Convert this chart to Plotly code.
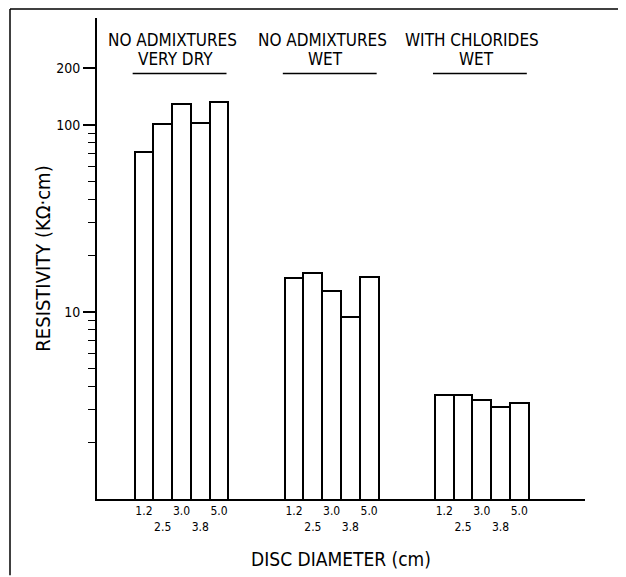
import plotly.graph_objects as go

# ---- data ----
group_line1 = ["NO ADMIXTURES", "NO ADMIXTURES", "WITH CHLORIDES"]
group_line2 = ["VERY DRY", "WET", "WET"]
diameters = ["1.2", "2.5", "3.0", "3.8", "5.0"]
very_dry = [71.5, 101, 128.6, 102.5, 133]
wet = [15.2, 16.1, 12.9, 9.4, 15.4]
chlorides_wet = [3.59, 3.59, 3.40, 3.11, 3.27]
y_tick_vals = [10, 100, 200]
y_tick_text = ["10", "100", "200"]

series = [very_dry, wet, chlorides_wet]
GAP = 8  # slot spacing between groups

FONT = "Liberation Sans Narrow, DejaVu Sans Condensed, Arial, sans-serif"

fig = go.Figure()
tickvals, ticktext = [], []
for g, vals in enumerate(series):
    xs = [g * GAP + i for i in range(len(vals))]
    fig.add_trace(go.Bar(
        x=xs, y=vals, width=1,
        marker=dict(color="white", line=dict(color="black", width=2)),
        showlegend=False, hoverinfo="skip",
    ))
    for i, d in enumerate(diameters):
        tickvals.append(g * GAP + i)
        ticktext.append(d if i % 2 == 0 else "<br>" + d)

# the page body adds an 8px margin; work in window pixels and shift
OFF = 8
WIN_W, WIN_H = 626, 577
W, H = WIN_W - OFF, WIN_H - OFF
PL, PR, PT, PB = 97, 585, 18, 503  # plot area in window pixels
ML, MR, MT, MB = PL - OFF, W - (PR - OFF), PT - OFF, H - (PB - OFF)
pw, ph = W - ML - MR, H - MT - MB

def px(xw):
    return (xw - OFF - ML) / pw

def py(yw):
    return (H - MB - (yw - OFF)) / ph

shapes = [
    dict(type="line", xref="paper", yref="paper", x0=px(10), x1=px(10), y0=py(9), y1=py(580),
         line=dict(color="black", width=1.5)),
    dict(type="line", xref="paper", yref="paper", x0=px(10), x1=px(630), y0=py(9), y1=py(9),
         line=dict(color="black", width=1.5)),
]
annotations = []
for g in range(3):
    c = g * GAP + 2
    annotations.append(dict(x=c - 0.5, y=py(40), xref="x", yref="paper", text=group_line1[g],
                            xanchor="center", yanchor="middle",
                            showarrow=False, font=dict(family=FONT, size=17, color="black")))
    annotations.append(dict(x=c - 0.3, y=py(59), xref="x", yref="paper", text=group_line2[g],
                            xanchor="center", yanchor="middle",
                            showarrow=False, font=dict(family=FONT, size=17, color="black")))
    shapes.append(dict(type="line", xref="x", yref="paper", x0=c - 2.6, x1=c + 2.4,
                       y0=py(74), y1=py(74), line=dict(color="black", width=1.5)))

fig.update_layout(
    width=W, height=H,
    margin=dict(l=ML, r=MR, t=MT, b=MB, pad=0),
    paper_bgcolor="white", plot_bgcolor="white",
    bargap=0,
    font=dict(family=FONT, color="black"),
    shapes=shapes, annotations=annotations,
    xaxis=dict(
        range=[-2.5, 23.5], showgrid=False, zeroline=False,
        showline=True, linecolor="black", linewidth=2,
        tickvals=tickvals, ticktext=ticktext, ticks="", ticklen=0,
        tickfont=dict(family=FONT, size=12, color="black"), tickangle=0,
        title=dict(text="DISC DIAMETER (cm)", font=dict(family=FONT, size=19, color="black"), standoff=20),
    ),
    yaxis=dict(
        type="log", range=[0, 2.57], showgrid=False, zeroline=False,
        showline=True, linecolor="black", linewidth=2,
        tickvals=y_tick_vals, ticktext=y_tick_text,
        ticks="outside", ticklen=12, tickwidth=1.5, tickcolor="black",
        tickfont=dict(family=FONT, size=14, color="black"),
        minor=dict(tickvals=[2, 3, 4, 5, 6, 7, 8, 9, 20, 30, 40, 50, 60, 70, 80, 90],
                   ticks="outside", ticklen=7, tickwidth=1.2, tickcolor="black", showgrid=False),
        title=dict(text="RESISTIVITY (KΩ·cm)", font=dict(family=FONT, size=20, color="black"), standoff=0),
    ),
)

fig.write_html("out.html")
